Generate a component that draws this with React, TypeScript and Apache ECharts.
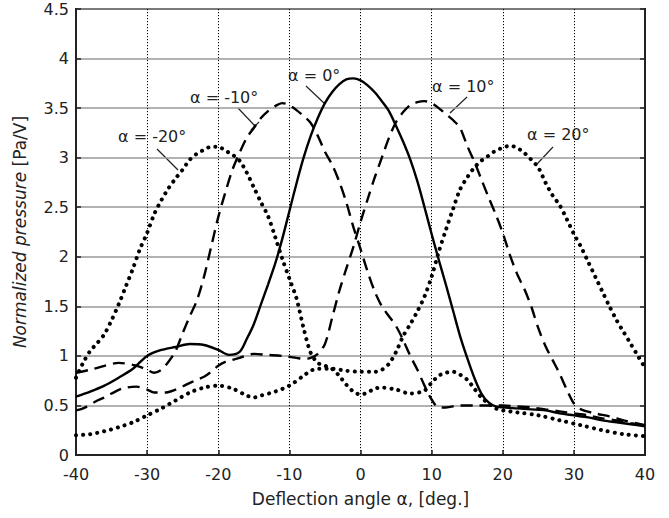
import React, { useEffect, useRef } from "react";
import * as echarts from "echarts";

// α = 0° (solid)
const x0 = [-40,-38,-36,-34,-32,-30,-28,-26,-24,-22,-20,-18.5,-17,-16,-15,-14,-13,-12,-11,-10,-9,-8,-7,-6,-5,-4,-3,-2,-1,0,1,2,3,4,5,6,7,8,9,10,11,12,13,14,15,16,17,18,19,20,22,24,26,28,30,32,34,36,38,40];
const y0 = [0.59,0.64,0.70,0.78,0.87,1.0,1.06,1.09,1.12,1.11,1.06,1.01,1.04,1.17,1.32,1.52,1.72,1.93,2.18,2.46,2.74,3.0,3.22,3.4,3.55,3.66,3.74,3.79,3.80,3.78,3.73,3.66,3.57,3.47,3.32,3.16,2.98,2.76,2.5,2.23,1.97,1.72,1.46,1.2,0.98,0.78,0.62,0.53,0.49,0.48,0.47,0.46,0.45,0.42,0.4,0.38,0.35,0.33,0.31,0.29];

// α = -10° (dashed)
const xm10 = [-40,-38,-36,-34,-32,-31,-30,-29,-28,-27,-26,-25,-24,-23,-22,-21,-20,-19,-18,-17,-16,-15,-14,-13,-12,-11,-10,-9,-8,-7,-6,-5,-4,-3,-2,-1,0,1,2,3,4,5,6,7,8,9,10,11,12,14,16,18,20,22,24,26,28,30,32,34,36,38,40];
const ym10 = [0.83,0.86,0.90,0.93,0.91,0.89,0.86,0.83,0.86,0.94,1.05,1.23,1.4,1.56,1.8,2.1,2.4,2.65,2.88,3.05,3.2,3.3,3.4,3.47,3.52,3.55,3.53,3.48,3.42,3.35,3.22,3.06,2.93,2.76,2.55,2.3,2.08,1.85,1.65,1.5,1.4,1.3,1.16,1.0,0.86,0.7,0.56,0.48,0.48,0.5,0.5,0.5,0.5,0.49,0.48,0.46,0.44,0.42,0.4,0.37,0.35,0.32,0.3];

// α = 10° (dashed)
const x10 = [-40,-39,-37,-36,-35,-33.5,-31.5,-30,-29,-27.5,-26,-24.5,-23,-22,-21,-20,-19,-17,-15,-13,-11,-9,-8,-7,-6,-5,-4,-3,-2,-1,0,1,2,3,4,5,6,7,8,9,10,11,12,13,14,15,16,17,18,19,20,21,22,23,24,25,26,27,28,29,30,31,33,35,37,40];
const y10 = [0.45,0.47,0.55,0.58,0.62,0.67,0.69,0.66,0.63,0.63,0.66,0.71,0.76,0.79,0.84,0.9,0.94,0.98,1.02,1.01,1.0,0.98,0.97,0.98,1.02,1.12,1.38,1.65,1.88,2.1,2.35,2.58,2.8,3.0,3.2,3.36,3.46,3.53,3.56,3.57,3.55,3.5,3.44,3.38,3.3,3.12,2.96,2.78,2.6,2.43,2.24,2.02,1.83,1.68,1.5,1.28,1.1,0.96,0.82,0.66,0.52,0.46,0.42,0.39,0.35,0.3];

// α = -20° (dotted)
const xm20 = [-40,-39,-38,-37,-36,-35,-34,-33,-32,-31,-30,-29,-28,-27,-26,-25,-24,-23,-22,-21,-20,-19,-18,-17,-16,-15,-14,-13,-12,-11,-10,-9,-8,-7,-6,-5,-4,-3,-2,-1,0,1,2,3,5,7,9,10,11,12,13,14,15,16,17,18,19,20,22,25,28,31,34,37,40];
const ym20 = [0.78,0.93,1.05,1.13,1.22,1.36,1.52,1.7,1.88,2.08,2.24,2.43,2.57,2.69,2.79,2.88,2.98,3.04,3.08,3.11,3.11,3.07,3.03,2.97,2.85,2.7,2.55,2.41,2.2,1.98,1.78,1.58,1.28,1.03,0.93,0.9,0.87,0.8,0.71,0.64,0.61,0.63,0.67,0.68,0.66,0.62,0.65,0.73,0.8,0.83,0.84,0.81,0.76,0.67,0.58,0.52,0.47,0.45,0.43,0.4,0.35,0.3,0.25,0.21,0.19];

// α = 20° (dotted)
const x20 = [-40,-38,-36,-34,-32,-30,-28,-26,-24,-22,-20,-18,-16,-15,-14,-12,-10,-8,-7,-6,-4,-2,0,2,3,4,5,6,7,8,9,10,11,12,13,14,15,16,17,18,19,20,21,22,23,24,25,26,27,28,29,30,31,32,33,34,35,36,37,38,39,40];
const y20 = [0.2,0.21,0.24,0.28,0.33,0.4,0.47,0.55,0.63,0.68,0.7,0.67,0.6,0.58,0.6,0.64,0.7,0.8,0.85,0.87,0.87,0.85,0.84,0.84,0.86,0.92,1.04,1.2,1.32,1.45,1.6,1.8,2.05,2.27,2.48,2.68,2.8,2.9,2.97,3.02,3.07,3.1,3.12,3.1,3.05,2.98,2.9,2.75,2.62,2.52,2.38,2.23,2.1,1.95,1.8,1.65,1.5,1.36,1.24,1.12,1.0,0.88];

const xTicks = { min: -40, max: 40, interval: 10 };
const yTicks = { min: 0, max: 4.5, interval: 0.5 };

const FONT = "DejaVu Sans";

function pairs(xs: number[], ys: number[]) {
  return xs.map((x, i) => [x, ys[i]]);
}

export default function App() {
  const ref = useRef<HTMLDivElement>(null);
  useEffect(() => {
    document.body.style.margin = "0";
    const chart = echarts.init(ref.current!, null, { renderer: "svg" });
    const solid = { color: "#000", width: 2.4, type: "solid" as const };
    const dashed = { color: "#000", width: 2.4, type: [12, 7] as any };
    const dotted = { color: "#000", width: 4, type: [0.1, 7] as any, cap: "round" as const };
    const mk = (name: string, data: number[][], ls: any) => ({
      name,
      type: "line",
      data,
      showSymbol: false,
      smooth: 0.3,
      lineStyle: ls,
      silent: true,
    });
    const T = (text: string, x: number, y: number) => ({
      type: "text",
      x,
      y,
      style: { text, fontSize: 16, fontFamily: FONT, fill: "#222", verticalAlign: "middle", align: "left" },
    });
    const L = (x1: number, y1: number, x2: number, y2: number) => ({
      type: "line",
      shape: { x1, y1, x2, y2 },
      style: { stroke: "#222", lineWidth: 1.2 },
    });
    chart.setOption({
      animation: false,
      backgroundColor: "#fff",
      grid: { left: 76, right: 24, top: 9, bottom: 63, show: true, borderColor: "#222", borderWidth: 2 },
      xAxis: {
        type: "value",
        ...xTicks,
        name: "Deflection angle α, [deg.]",
        nameLocation: "middle",
        nameGap: 35,
        nameTextStyle: { fontSize: 17, fontFamily: FONT, color: "#222" },
        axisLine: { show: true, onZero: false, lineStyle: { color: "#222", width: 2 } },
        axisTick: { show: true, inside: true, length: 5, lineStyle: { color: "#222", width: 1.5 } },
        axisLabel: { fontSize: 16, fontFamily: FONT, color: "#222", margin: 11 },
        splitLine: { show: true, lineStyle: { color: "#000", width: 1, type: [1.2, 1.8] } },
      },
      yAxis: [
        {
          type: "value",
          ...yTicks,
          name: "{i|Normalized pressure} [Pa/V]",
          nameLocation: "middle",
          nameGap: 48,
          nameRotate: 90,
          nameTextStyle: {
            fontSize: 17,
            fontFamily: FONT,
            color: "#222",
            rich: { i: { fontStyle: "italic", fontSize: 17, fontFamily: FONT, color: "#222" } },
          },
          axisLine: { show: true, onZero: false, lineStyle: { color: "#222", width: 2 } },
          axisTick: { show: true, inside: true, length: 5, lineStyle: { color: "#222", width: 1.5 } },
          axisLabel: { fontSize: 16, fontFamily: FONT, color: "#222", margin: 7 },
          splitLine: { show: true, lineStyle: { color: "#999", width: 1.5 } },
        },
        {
          type: "value",
          ...yTicks,
          position: "right",
          axisLine: { show: true, onZero: false, lineStyle: { color: "#222", width: 2 } },
          axisTick: { show: true, inside: true, length: 5, lineStyle: { color: "#222", width: 1.5 } },
          axisLabel: { show: false },
          splitLine: { show: false },
        },
      ],
      series: [
        mk("α = -20°", pairs(xm20, ym20), dotted),
        mk("α = 20°", pairs(x20, y20), dotted),
        mk("α = -10°", pairs(xm10, ym10), dashed),
        mk("α = 10°", pairs(x10, y10), dashed),
        mk("α = 0°", pairs(x0, y0), solid),
      ],
      graphic: [
        T("α = 0°", 288, 75),
        L(306, 86, 325, 104),
        T("α = -10°", 190, 97),
        L(238, 108, 255, 126),
        L(251, 130, 259, 122),
        T("α = 10°", 432, 86),
        L(467, 97, 450, 113),
        T("α = -20°", 118, 136),
        L(157, 149, 178, 170),
        T("α = 20°", 527, 134),
        L(553, 147, 537, 164),
      ],
    });
    return () => chart.dispose();
  }, []);
  return <div ref={ref} style={{ width: 669, height: 518 }} />;
}
